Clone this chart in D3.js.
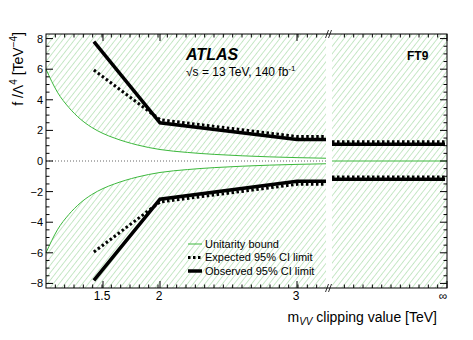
<!DOCTYPE html>
<html>
<head>
<meta charset="utf-8">
<script src="https://cdn.jsdelivr.net/npm/d3@7"></script>
<style>
  html, body { margin: 0; padding: 0; background: #fff; }
  svg { display: block; font-family: "Liberation Sans", Arial, Helvetica, sans-serif; }
</style>
</head>
<body>
<div id="chart"></div>
<script>
// clipping values (TeV) for the left part of the axis
const clipValues = [1.42, 2, 3, 3.22];
const obsUpper = [7.8, 2.5, 1.4, 1.4];
const expUpper = [5.95, 2.7, 1.6, 1.6];
const obsLower = [-7.8, -2.5, -1.32, -1.32];
const expLower = [-5.95, -2.68, -1.52, -1.52];

// no clipping (infinity) part
const infObs = [1.1, -1.2];
const infExp = [1.25, -1.05];

// unitarity bound
const unitM = [1.0, 1.1, 1.2, 1.3, 1.4, 1.5, 1.6, 1.8, 2.0, 2.2, 2.4, 2.6, 2.8, 3.0, 3.22];
const unitBound = [6.0, 4.5, 3.5, 2.75, 2.2, 1.8, 1.5, 1.05, 0.75, 0.56, 0.43, 0.34, 0.27, 0.22, 0.18];

const yTicks = [-8, -6, -4, -2, 0, 2, 4, 6, 8];
const xTickLabels = [1.5, 2, 3];

const width = 473, height = 340;
const pLeft = 46, pRight = 447, pTop = 34, pBottom = 288;
const breakL = 326, breakR = 332;

const x = d3.scaleLinear().domain([1, 2, 3, 3.22]).range([pLeft, 160, 297, breakL]);
const xInf = d3.scaleLinear().domain([0, 1]).range([breakR, 445]);
const y = d3.scaleLinear().domain([-8.3, 8.3]).range([pBottom, pTop]);

const svg = d3.select("#chart").append("svg")
  .attr("width", width)
  .attr("height", height);

// hatch pattern
const defs = svg.append("defs");
defs.append("pattern")
  .attr("id", "hatch")
  .attr("patternUnits", "userSpaceOnUse")
  .attr("width", 4.6).attr("height", 10)
  .attr("patternTransform", "rotate(38)")
  .append("line")
  .attr("x1", 0).attr("y1", 0).attr("x2", 0).attr("y2", 10)
  .attr("stroke", "#8fd08f").attr("stroke-width", 1);

const unit = unitM.map((m, i) => ({ m, v: unitBound[i] }));

// excluded by unitarity: above the upper and below the lower curve
const upperArea = d3.area()
  .x(d => x(d.m)).y0(pTop).y1(d => y(d.v))
  .curve(d3.curveMonotoneX);
const lowerArea = d3.area()
  .x(d => x(d.m)).y0(pBottom).y1(d => y(-d.v))
  .curve(d3.curveMonotoneX);

svg.append("path").attr("d", upperArea(unit)).attr("fill", "url(#hatch)");
svg.append("path").attr("d", lowerArea(unit)).attr("fill", "url(#hatch)");
svg.append("rect")
  .attr("x", breakR).attr("y", pTop)
  .attr("width", pRight - breakR).attr("height", pBottom - pTop)
  .attr("fill", "url(#hatch)");

// zero line
svg.append("line")
  .attr("x1", pLeft).attr("x2", breakL)
  .attr("y1", y(0)).attr("y2", y(0))
  .attr("stroke", "#666").attr("stroke-width", 1)
  .attr("stroke-dasharray", "1,2");

// unitarity curves
const green = "#3cb83c";
const unitLine = sign => d3.line()
  .x(d => x(d.m)).y(d => y(sign * d.v))
  .curve(d3.curveMonotoneX);
svg.append("path").attr("d", unitLine(1)(unit))
  .attr("fill", "none").attr("stroke", green).attr("stroke-width", 1);
svg.append("path").attr("d", unitLine(-1)(unit))
  .attr("fill", "none").attr("stroke", green).attr("stroke-width", 1);
svg.append("line")
  .attr("x1", breakR).attr("x2", pRight)
  .attr("y1", y(0)).attr("y2", y(0))
  .attr("stroke", green).attr("stroke-width", 1);

// limits
const limLine = d3.line().x(d => x(d[0])).y(d => y(d[1]));
const drawLim = (vals, dotted) => {
  svg.append("path")
    .attr("d", limLine(clipValues.map((c, i) => [c, vals[i]])))
    .attr("fill", "none")
    .attr("stroke", "#000")
    .attr("stroke-width", dotted ? 3 : 3.5)
    .attr("stroke-dasharray", dotted ? "2.5,2.5" : null);
};
drawLim(obsUpper, false);
drawLim(obsLower, false);
drawLim(expUpper, true);
drawLim(expLower, true);

infObs.forEach(v => {
  svg.append("line")
    .attr("x1", xInf(0)).attr("x2", xInf(1))
    .attr("y1", y(v)).attr("y2", y(v))
    .attr("stroke", "#000").attr("stroke-width", 3.5);
});
infExp.forEach(v => {
  svg.append("line")
    .attr("x1", xInf(0)).attr("x2", xInf(1))
    .attr("y1", y(v)).attr("y2", y(v))
    .attr("stroke", "#000").attr("stroke-width", 3)
    .attr("stroke-dasharray", "2.5,2.5");
});

// frame
svg.append("rect")
  .attr("x", pLeft).attr("y", pTop)
  .attr("width", pRight - pLeft).attr("height", pBottom - pTop)
  .attr("fill", "none").attr("stroke", "#000").attr("stroke-width", 1);

// y ticks (left and right)
const tickG = svg.append("g").attr("stroke", "#000").attr("stroke-width", 1);
d3.range(-8, 8.01, 0.5).forEach(v => {
  const len = v % 2 === 0 ? 7 : 3.5;
  tickG.append("line").attr("x1", pLeft).attr("x2", pLeft + len)
    .attr("y1", y(v)).attr("y2", y(v));
  tickG.append("line").attr("x1", pRight).attr("x2", pRight - len)
    .attr("y1", y(v)).attr("y2", y(v));
});

// x ticks, evenly spaced like the original frame
const tickL = d3.scaleLinear().domain([0, 30]).range([pLeft, breakL]);
const tickR = d3.scaleLinear().domain([0, 12]).range([pRight, pRight - 12 * 9.33]);
const xTickPos = d3.range(1, 30).map(tickL)
  .concat(d3.range(1, 12).map(tickR));
xTickPos.forEach(px => {
  tickG.append("line").attr("x1", px).attr("x2", px).attr("y1", pBottom).attr("y2", pBottom - 3.5);
  tickG.append("line").attr("x1", px).attr("x2", px).attr("y1", pTop).attr("y2", pTop + 3.5);
});
xTickLabels.map(x).concat([pRight]).forEach(px => {
  tickG.append("line").attr("x1", px).attr("x2", px).attr("y1", pBottom).attr("y2", pBottom - 7);
  tickG.append("line").attr("x1", px).attr("x2", px).attr("y1", pTop).attr("y2", pTop + 7);
});

// axis break: white gap and // markers
svg.append("rect")
  .attr("x", breakL).attr("y", pTop + 1)
  .attr("width", breakR - breakL).attr("height", pBottom - pTop - 2)
  .attr("fill", "#fff");
[pTop, pBottom].forEach(yy => {
  [327, 330].forEach(px => {
    svg.append("line")
      .attr("x1", px - 1.5).attr("x2", px + 1.5)
      .attr("y1", yy + 4).attr("y2", yy - 4)
      .attr("stroke", "#000").attr("stroke-width", 0.8);
  });
});

// tick labels
svg.append("g").selectAll("text")
  .data(yTicks).join("text")
  .attr("x", 43).attr("y", d => y(d)).attr("dy", "0.36em")
  .attr("text-anchor", "end").attr("font-size", 11)
  .text(d => d < 0 ? "\u2212" + Math.abs(d) : d);

svg.append("g").selectAll("text")
  .data(xTickLabels).join("text")
  .attr("x", d => x(d) - 1).attr("y", 300)
  .attr("text-anchor", "middle").attr("font-size", 12)
  .text(d => d);
svg.append("text")
  .attr("x", 443).attr("y", 300)
  .attr("text-anchor", "middle").attr("font-size", 12)
  .text("\u221E");

// axis titles
const yTitle = svg.append("text")
  .attr("transform", "translate(23,32) rotate(-90)")
  .attr("text-anchor", "end").attr("font-size", 14);
yTitle.append("tspan").text("f /\u039B");
yTitle.append("tspan").attr("font-size", 10).attr("dy", -6).text("4");
yTitle.append("tspan").attr("dy", 6).text(" [TeV");
yTitle.append("tspan").attr("font-size", 10).attr("dy", -6).text("\u22124");
yTitle.append("tspan").attr("dy", 6).text("]");

const xTitle = svg.append("text")
  .attr("x", 437).attr("y", 322)
  .attr("text-anchor", "end").attr("font-size", 14);
xTitle.append("tspan").text("m");
xTitle.append("tspan").attr("font-size", 10).attr("font-style", "italic").attr("dy", 3).text("VV");
xTitle.append("tspan").attr("dy", -3).text(" clipping value [TeV]");

// labels
svg.append("text")
  .attr("x", 186).attr("y", 60)
  .attr("font-size", 16).attr("font-weight", "bold").attr("font-style", "italic")
  .text("ATLAS");
const energy = svg.append("text")
  .attr("x", 186).attr("y", 76).attr("font-size", 12);
energy.append("tspan").text("\u221As = 13 TeV, 140 fb");
energy.append("tspan").attr("font-size", 8).attr("dy", -5).text("-1");

svg.append("text")
  .attr("x", 407).attr("y", 60)
  .attr("font-size", 12).attr("font-weight", "bold")
  .text("FT9");

// legend
const legend = [
  { label: "Unitarity bound", color: green, w: 1, dash: null },
  { label: "Expected 95% CI limit", color: "#000", w: 3, dash: "2.5,2.5" },
  { label: "Observed 95% CI limit", color: "#000", w: 3.5, dash: null }
];
legend.forEach((d, i) => {
  const ly = 244 + i * 13.5;
  svg.append("line")
    .attr("x1", 188).attr("x2", 202).attr("y1", ly).attr("y2", ly)
    .attr("stroke", d.color).attr("stroke-width", d.w)
    .attr("stroke-dasharray", d.dash);
  svg.append("text")
    .attr("x", 205).attr("y", ly).attr("dy", "0.35em")
    .attr("font-size", 11)
    .text(d.label);
});
</script>
</body>
</html>
